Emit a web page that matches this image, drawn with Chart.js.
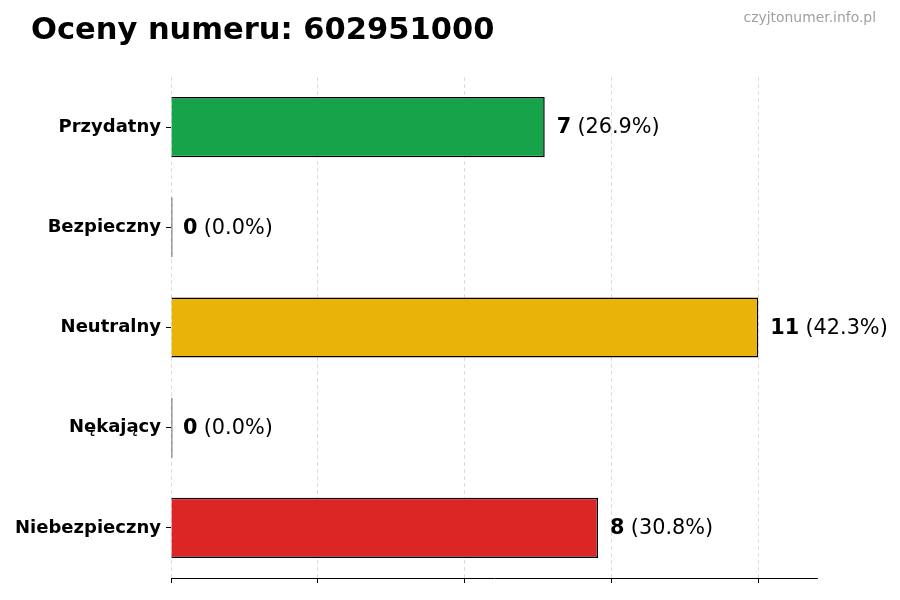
<!DOCTYPE html>
<html>
<head>
<meta charset="utf-8">
<script src="https://cdn.jsdelivr.net/npm/chart.js@4.4.1/dist/chart.umd.min.js"></script>
<style>
html,body{margin:0;padding:0;background:#fff;}
#wrap{width:900px;height:600px;position:relative;}
</style>
</head>
<body>
<div id="wrap"><canvas id="c"></canvas></div>
<script>
const categories = ["Przydatny", "Bezpieczny", "Neutralny", "Nękający", "Niebezpieczny"];
const counts = [7, 0, 11, 0, 8];
const percents = ["26.9%", "0.0%", "42.3%", "0.0%", "30.8%"];
const barColors = ["#16a34a", "#111111", "#eab308", "#111111", "#dc2626"];
const xTickValues = [0, 2.75, 5.5, 8.25, 11];
const xMax = 12.1;
const titleText = "Oceny numeru: 602951000";
const watermarkText = "czyjtonumer.info.pl";

const FONT = "'DejaVu Sans', sans-serif";

const overlay = {
  id: 'overlay',
  afterDatasetsDraw(chart) {
    const ctx = chart.ctx;
    const xs = chart.scales.x, ys = chart.scales.y;
    ctx.save();
    ctx.textBaseline = 'middle';
    ctx.textAlign = 'left';
    counts.forEach((v, i) => {
      const x = xs.getPixelForValue(v) + 12;
      const y = ys.getPixelForValue(i) + 1;
      ctx.font = "bold 20.8px " + FONT;
      ctx.fillStyle = '#000';
      const s1 = String(v);
      ctx.fillText(s1, x, y);
      const w1 = ctx.measureText(s1 + " ").width;
      ctx.font = "20.8px " + FONT;
      ctx.fillText("(" + percents[i] + ")", x + w1 - 1, y);
    });
    ctx.restore();
  },
  afterDraw(chart) {
    const ctx = chart.ctx;
    ctx.save();
    ctx.textBaseline = 'middle';
    ctx.textAlign = 'left';
    ctx.font = "bold 30.5px " + FONT;
    ctx.fillStyle = '#000';
    ctx.fillText(titleText, 31, 31);
    ctx.textAlign = 'right';
    ctx.font = "13.9px " + FONT;
    ctx.fillStyle = '#a0a0a0';
    ctx.fillText(watermarkText, 876, 18);
    ctx.restore();
  }
};

new Chart(document.getElementById('c'), {
  type: 'bar',
  data: {
    labels: categories,
    datasets: [{
      data: counts,
      backgroundColor: barColors,
      borderColor: '#000',
      borderWidth: 1.5,
      minBarLength: 1.5,
      barPercentage: 0.6,
      categoryPercentage: 1.0
    }]
  },
  options: {
    indexAxis: 'y',
    responsive: true,
    maintainAspectRatio: false,
    animation: false,
    devicePixelRatio: 1,
    layout: { padding: { top: 77, right: 83, bottom: 0, left: 0 } },
    plugins: { legend: { display: false }, tooltip: { enabled: false } },
    scales: {
      x: {
        min: 0,
        max: xMax,
        afterBuildTicks(scale) { scale.ticks = xTickValues.map(v => ({ value: v })); },
        afterFit(scale) { scale.height = 22; },
        ticks: { display: false },
        grid: {
          display: true,
          color: '#d4d4d4',
          lineWidth: 0.8,
          drawTicks: true,
          tickLength: 5,
          tickColor: '#000',
          tickWidth: 1,
          tickBorderDash: []
        },
        border: { display: true, color: '#000', width: 1, dash: [4, 3] }
      },
      y: {
        afterFit(scale) { scale.width = 171; },
        ticks: {
          color: '#000',
          padding: 5,
          font: { family: FONT, size: 18, weight: 'bold' }
        },
        grid: {
          display: true,
          offset: false,
          drawOnChartArea: false,
          drawTicks: true,
          tickLength: 5,
          tickColor: '#000',
          tickWidth: 1
        },
        border: { display: false }
      }
    }
  },
  plugins: [overlay]
});
</script>
</body>
</html>
